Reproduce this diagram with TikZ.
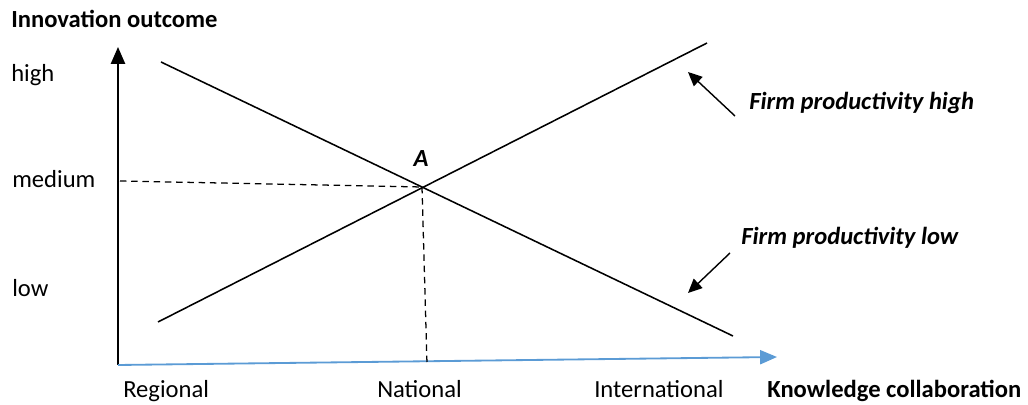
\documentclass[tikz,border=0pt]{standalone}
\usepackage{fontspec}
\setmainfont{Carlito}
\usetikzlibrary{arrows.meta}
\definecolor{axisblue}{RGB}{91,155,213}
\begin{document}
\begin{tikzpicture}[x=0.025cm,y=-0.025cm,
  font=\fontsize{17.5}{20}\selectfont,
  lbl/.style={anchor=base west,inner sep=0pt},
  tick/.style={anchor=base west,inner sep=0pt},
  curve/.style={line width=1.1pt},
  guide/.style={line width=0.9pt,dash pattern=on 4.5pt off 3.5pt},
  pointer/.style={line width=1pt,-{Triangle[length=10pt,width=9pt]}}]

\useasboundingbox (0,0) rectangle (1028,405);

% axes
\coordinate (o) at (118,365);
\coordinate (ytop) at (118,47);
\coordinate (xend) at (777,357);
\draw[line width=1.5pt,-{Triangle[length=12pt,width=10pt]}] (o) -- (ytop);
\draw[axisblue,line width=1.3pt,-{Triangle[length=12pt,width=10pt]}] (o) -- (xend);

% the two lines
\coordinate (hs) at (158,322);
\coordinate (he) at (707,43);
\coordinate (ls) at (161,62);
\coordinate (le) at (733,336);
\draw[curve] (hs) -- (he);
\draw[curve] (ls) -- (le);

% point A
\coordinate (A) at (422,187);
\coordinate (mleft) at (120,181);
\coordinate (nbot) at (427,364);
\draw[guide] (mleft) -- (A);
\draw[guide] (A) -- (nbot);
\node[anchor=base,inner sep=0pt,font=\fontsize{17.5}{20}\selectfont\bfseries\itshape] (labelA) at (421,167) {A};

% labels
\node[lbl,font=\fontsize{17.5}{20}\selectfont\bfseries] (ytitle) at (11,28) {Innovation outcome};
\node[tick] (high) at (11,82) {high};
\node[tick] (medium) at (12,188) {medium};
\node[tick] (low) at (12,297) {low};
\node[tick] (regional) at (123,398) {Regional};
\node[tick] (national) at (377,398) {National};
\node[tick] (international) at (594,398) {International};
\node[lbl,font=\fontsize{17.5}{20}\selectfont\bfseries] (xtitle) at (767,398) {Knowledge collaboration};

\node[lbl,font=\fontsize{17.5}{20}\selectfont\bfseries\itshape] (fhigh) at (749,110) {Firm productivity high};
\node[lbl,font=\fontsize{17.5}{20}\selectfont\bfseries\itshape] (flow) at (741,245) {Firm productivity low};

\coordinate (ph) at (735,116);
\coordinate (phtip) at (688,72);
\coordinate (pl) at (730,253);
\coordinate (pltip) at (688,293);
\draw[pointer] (ph) -- (phtip);
\draw[pointer] (pl) -- (pltip);

\end{tikzpicture}
\end{document}
